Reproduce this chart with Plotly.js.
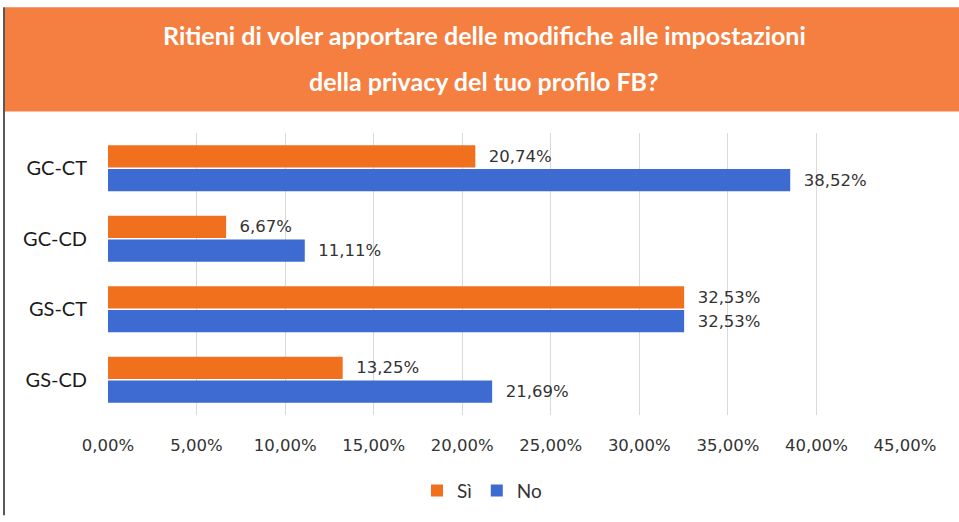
<!DOCTYPE html>
<html>
<head>
<meta charset="utf-8">
<script src="https://cdn.plot.ly/plotly-3.0.1.min.js"></script>
<style>html,body{margin:0;padding:0;background:#fff;}#chart{width:959px;height:522px;}</style>
</head>
<body>
<div id="chart"></div>
<script>
var categories = ["GC-CT", "GC-CD", "GS-CT", "GS-CD"];
var seriesNames = ["Sì", "No"];
var valuesSi = [20.74, 6.67, 32.53, 13.25];
var valuesNo = [38.52, 11.11, 32.53, 21.69];
var xTicks = [0, 5, 10, 15, 20, 25, 30, 35, 40, 45];
var xTickLabels = ["0,00%", "5,00%", "10,00%", "15,00%", "20,00%", "25,00%", "30,00%", "35,00%", "40,00%", "45,00%"];
var titleLines = ["Ritieni di voler apportare delle modifiche alle impostazioni", "della privacy del tuo profilo FB?"];

var W = 959, H = 522;
var L = 108, R = 54, T = 133, B = 102;
var pw = W - L - R, ph = H - T - B;
function px(x) { return (x - L) / pw; }
function py(y) { return (H - B - y) / ph; }

var numFont = "DejaVu Sans, sans-serif";
var labelFont = {family: numFont, size: 16.5, color: "#333333"};
var pad = "\u00a0\u00a0";

var traces = [
  {type: "bar", orientation: "h", name: seriesNames[0], y: categories, x: valuesSi,
   marker: {color: "#F0701E"}, texttemplate: pad + "%{x:.2f}%", textposition: "outside",
   cliponaxis: false, textfont: labelFont, hoverinfo: "skip"},
  {type: "bar", orientation: "h", name: seriesNames[1], y: categories, x: valuesNo,
   marker: {color: "#3D6BD1"}, texttemplate: pad + "%{x:.2f}%", textposition: "outside",
   cliponaxis: false, textfont: labelFont, hoverinfo: "skip"}
];

var layout = {
  width: W, height: H,
  margin: {l: L, r: R, t: T, b: B, pad: 0},
  paper_bgcolor: "#ffffff", plot_bgcolor: "#ffffff",
  separators: ",.",
  barmode: "group", bargap: 0.33, bargroupgap: 0.06,
  showlegend: true,
  legend: {orientation: "h", x: px(482), xanchor: "center", y: py(497), yanchor: "middle",
           font: {family: "Lato, sans-serif", size: 19, color: "#333333"}, traceorder: "normal"},
  xaxis: {range: [0, 45], tickmode: "array", tickvals: xTicks, ticktext: xTickLabels,
          showgrid: true, gridcolor: "#d9d9d9", gridwidth: 1, zeroline: false, showline: false,
          ticks: "", ticklabelstandoff: 18,
          tickfont: {family: numFont, size: 16.5, color: "#333333"}, fixedrange: true},
  yaxis: {type: "category", categoryorder: "array", categoryarray: categories, autorange: "reversed",
          showgrid: false, zeroline: false, showline: false, ticks: "", ticklabelstandoff: 20,
          tickfont: {family: "Lato, sans-serif", size: 20, color: "#1a1a1a"}, fixedrange: true},
  shapes: [
    {type: "rect", xref: "paper", yref: "paper", x0: px(5), x1: px(960), y0: py(111), y1: py(5),
     fillcolor: "#F47F41", line: {width: 0}, layer: "below"},
    {type: "line", xref: "paper", yref: "paper", x0: px(4), x1: px(4), y0: py(5), y1: py(522),
     line: {color: "#222222", width: 1.5}}
  ],
  annotations: [
    {xref: "paper", yref: "paper", x: px(484), y: py(33), xanchor: "center", yanchor: "middle",
     text: "<b>" + titleLines[0] + "</b>", showarrow: false,
     font: {family: "Lato, sans-serif", size: 25, color: "#ffffff"}},
    {xref: "paper", yref: "paper", x: px(484), y: py(80), xanchor: "center", yanchor: "middle",
     text: "<b>" + titleLines[1] + "</b>", showarrow: false,
     font: {family: "Lato, sans-serif", size: 25, color: "#ffffff"}}
  ]
};

Plotly.newPlot("chart", traces, layout, {displayModeBar: false, staticPlot: true});
</script>
</body>
</html>
